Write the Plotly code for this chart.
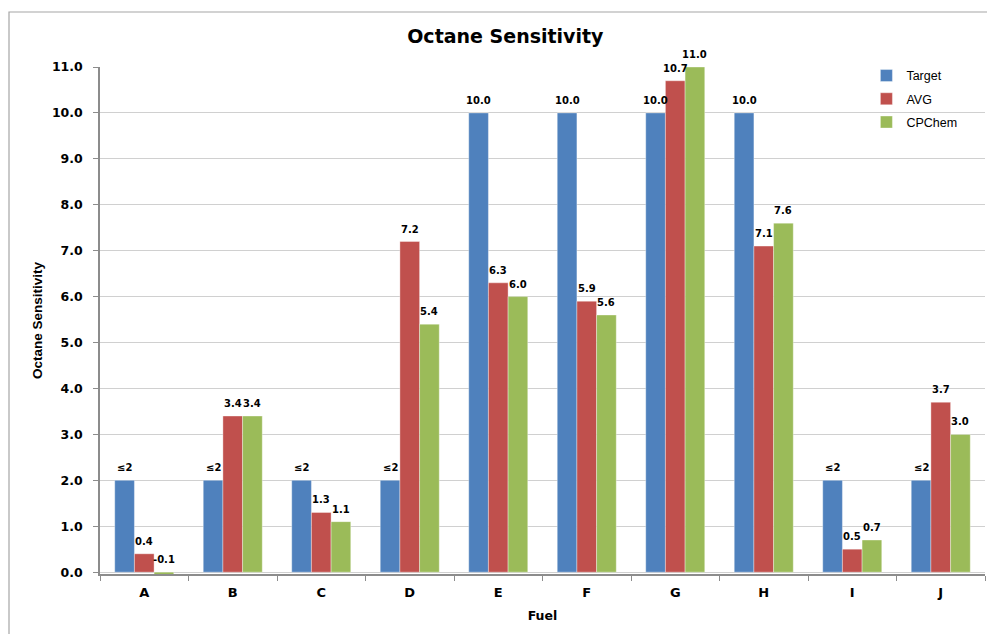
import plotly.graph_objects as go

fuels = ["A", "B", "C", "D", "E", "F", "G", "H", "I", "J"]
target = [2, 2, 2, 2, 10, 10, 10, 10, 2, 2]
target_labels = ["≤2", "≤2", "≤2", "≤2", "10.0", "10.0", "10.0", "10.0", "≤2", "≤2"]
avg = [0.4, 3.4, 1.3, 7.2, 6.3, 5.9, 10.7, 7.1, 0.5, 3.7]
cpchem = [-0.1, 3.4, 1.1, 5.4, 6.0, 5.6, 11.0, 7.6, 0.7, 3.0]
y_ticks = [0, 1, 2, 3, 4, 5, 6, 7, 8, 9, 10, 11]

series = [
    ("Target", target, target_labels, "#4F81BD"),
    ("AVG", avg, [f"{v:.1f}" for v in avg], "#C0504D"),
    ("CPChem", cpchem, [f"{v:.1f}" for v in cpchem], "#9BBB59"),
]

W, H = 987, 634
M_L, M_R, M_T, M_B = 100, 2, 67, 60
BARGAP = 0.333
cat_px = (W - M_L - M_R) / len(fuels)
bar_px = cat_px * (1 - BARGAP) / len(series)

fig = go.Figure()
annotations = []
for si, (name, vals, labels, color) in enumerate(series):
    fig.add_trace(go.Bar(
        name=name, x=fuels, y=vals, legendgroup=name,
        marker=dict(color=color, line=dict(color="rgba(255,255,255,0.6)", width=0.6)),
    ))
    shift = (si - 1) * bar_px
    for f, v, lab in zip(fuels, vals, labels):
        annotations.append(dict(
            x=f, y=max(v, 0), text=f"<b>{lab}</b>", showarrow=False,
            xref="x", yref="y", yanchor="bottom", xanchor="center",
            xshift=shift, yshift=5,
            font=dict(family="DejaVu Sans", size=10, color="#000000"),
        ))

fig.update_layout(
    width=W, height=H,
    margin=dict(l=M_L, r=M_R, t=M_T, b=M_B),
    paper_bgcolor="white", plot_bgcolor="white",
    barmode="group", bargap=BARGAP, bargroupgap=0,
    title=dict(text="<b>Octane Sensitivity</b>", x=0.512, xanchor="center",
               y=0.942, yanchor="middle",
               font=dict(family="DejaVu Sans", size=19, color="#000000")),
    legend=dict(x=0.866, y=1.012, xanchor="left", yanchor="top",
                bgcolor="rgba(0,0,0,0)", tracegroupgap=4, traceorder="grouped",
                font=dict(family="Liberation Sans", size=12.5, color="#000000")),
    annotations=annotations,
    shapes=[dict(type="rect", xref="paper", yref="paper",
                 x0=(9 - M_L) / (W - M_L - M_R), x1=1.2,
                 y0=-0.3, y1=(H - M_B - 12) / (H - M_T - M_B),
                 line=dict(color="#a6a6a6", width=1.2), layer="below")],
)

fig.update_xaxes(
    title=dict(text="<b>Fuel</b>", font=dict(family="DejaVu Sans", size=12.5, color="#000000"),
               standoff=12),
    tickvals=fuels, ticktext=[f"<b>{f}</b>" for f in fuels],
    tickfont=dict(family="DejaVu Sans", size=13, color="#000000"),
    showline=True, linecolor="#8c8c8c", linewidth=1.5,
    ticks="outside", tickson="boundaries", ticklen=5, tickcolor="#8c8c8c",
    ticklabelstandoff=6,
    showgrid=False,
)
fig.update_yaxes(
    title=dict(text="<b>Octane Sensitivity</b>",
               font=dict(family="Liberation Sans Narrow, Liberation Sans", size=13.5, color="#000000"),
               standoff=6),
    range=[-0.04, 11], tickvals=y_ticks, ticktext=[f"<b>{t:.1f}</b>" for t in y_ticks],
    tickfont=dict(family="DejaVu Sans", size=12.5, color="#000000"),
    showline=True, linecolor="#8c8c8c", linewidth=1.5,
    ticks="outside", ticklen=5, tickcolor="#8c8c8c",
    ticklabelstandoff=8,
    showgrid=True, gridcolor="#d0d0d0", gridwidth=1, zeroline=False,
)

fig.write_html("out.html")
